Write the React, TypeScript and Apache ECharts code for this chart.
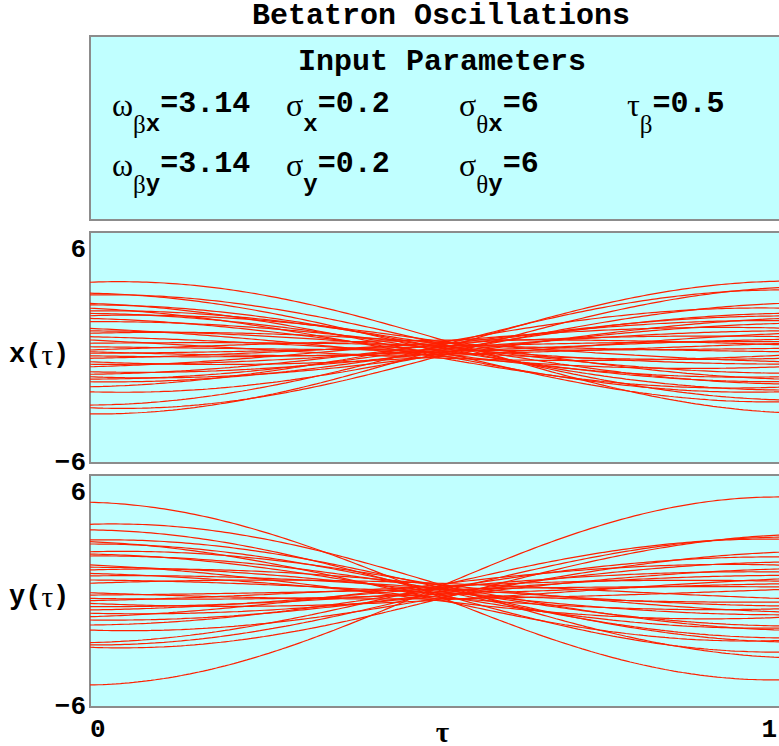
import React, { useEffect, useRef } from 'react';
import * as echarts from 'echarts';

// ---- text content ----
const TITLE = 'Betatron Oscillations';
const PARAM_HEADING = 'Input Parameters';

// ---- input parameters ----
const omegaX = 3.14;
const omegaY = 3.14;
const sigmaX = 0.2;
const sigmaY = 0.2;
const sigmaThetaX = 6;
const sigmaThetaY = 6;
const tauBeta = 0.5;

// ---- particle trajectories: position at tau = 0 and at the waist tau = tauBeta ----
const xStart = [3.39, 2.82, 2.73, 2.29, 2.21, 2.04, 1.9, 1.77, 1.65, 1.51, 1.34, 0.99, 0.86, 0.74, 0.56, 0.39, 0.22, 0.04,
  -0.13, -0.22, -0.3, -0.43, -0.56, -0.74, -0.87, -1.0, -1.26, -1.39, -1.52, -1.64, -1.78, -2.04, -2.3, -2.99, -3.13, -3.45];
const xWaist = [0.45, -0.2, 0.22, -0.38, 0.02, -0.52, 0.16, -0.12, 0.33, -0.3, 0.08, -0.45, -0.02, 0.27, -0.26, -0.55, 0.12, -0.14,
  0.38, -0.36, 0.05, -0.22, 0.2, -0.48, -0.08, 0.3, -0.28, 0.14, -0.42, 0.0, -0.16, 0.24, -0.34, 0.08, -0.46, -0.1];

const yStart = [4.59, 3.45, 3.16, 2.64, 2.55, 2.43, 2.03, 1.91, 1.81, 1.35, 1.23, 1.09, 0.91, 0.78, 0.57, 0.4,
  -0.09, -0.21, -0.38, -0.5, -0.64, -0.81, -0.98, -1.15, -1.33, -1.5, -1.76, -2.02, -2.67, -2.79, -2.91, -4.86];
const yWaist = [-0.28, 0.36, -0.14, 0.2, -0.44, 0.04, 0.3, -0.22, 0.1, -0.5, -0.02, 0.33, -0.32, 0.15, -0.1, 0.4,
  -0.4, 0.08, -0.18, 0.24, -0.47, -0.04, 0.17, -0.26, 0.35, -0.14, 0.12, -0.36, 0.26, -0.06, -0.42, 0.2];

// ---- axes ----
const xTickValues = [0, 0.5, 1];
const xTickLabels = ['0', 'τ', '1'];
const yTickValues = [-6, 0, 6];
const yTickLabels = ['−6', '', '6'];
const xAxisNames = ['x(', 'τ', ')'];
const yAxisNames = ['y(', 'τ', ')'];

const SAMPLES = 160;

const MONO = '"Liberation Mono", "DejaVu Sans Mono", monospace';
const SERIF = '"Liberation Serif", "DejaVu Serif", serif';
const PANEL_BG = '#c0ffff';
const FRAME = '#8c8c8c';
const CURVE = '#ff2000';

// Betatron motion through a waist: x(t) = w cos(u) - x0 sin(u) / sin(omega * tauBeta), u = omega (t - tauBeta)
function trajectory(start: number, waist: number, omega: number): number[][] {
  const s = Math.sin(omega * tauBeta);
  const pts: number[][] = [];
  for (let i = 0; i <= SAMPLES; i++) {
    const t = i / SAMPLES;
    const u = omega * (t - tauBeta);
    pts.push([t, waist * Math.cos(u) - (start * Math.sin(u)) / s]);
  }
  return pts;
}

type Piece = { text: string; style: string };
type Param = { x: number; pieces: Piece[] };

const fmt = (v: number) => '=' + String(v);

const paramRows: Param[][] = [
  [
    { x: 112, pieces: [{ text: 'ω', style: 'g' }, { text: 'β', style: 'gs' }, { text: 'x', style: 'ms' }, { text: fmt(omegaX), style: 'm' }] },
    { x: 286, pieces: [{ text: 'σ', style: 'g' }, { text: 'x', style: 'ms' }, { text: fmt(sigmaX), style: 'm' }] },
    { x: 459, pieces: [{ text: 'σ', style: 'g' }, { text: 'θ', style: 'gs' }, { text: 'x', style: 'ms' }, { text: fmt(sigmaThetaX), style: 'm' }] },
    { x: 627, pieces: [{ text: 'τ', style: 'g' }, { text: 'β', style: 'gs' }, { text: fmt(tauBeta), style: 'm' }] },
  ],
  [
    { x: 112, pieces: [{ text: 'ω', style: 'g' }, { text: 'β', style: 'gs' }, { text: 'y', style: 'ms' }, { text: fmt(omegaY), style: 'm' }] },
    { x: 286, pieces: [{ text: 'σ', style: 'g' }, { text: 'y', style: 'ms' }, { text: fmt(sigmaY), style: 'm' }] },
    { x: 459, pieces: [{ text: 'σ', style: 'g' }, { text: 'θ', style: 'gs' }, { text: 'y', style: 'ms' }, { text: fmt(sigmaThetaY), style: 'm' }] },
  ],
];
const paramRowTops = [89, 149];

const paramRich = {
  g: { fontFamily: SERIF, fontSize: 32, lineHeight: 34, verticalAlign: 'top', fill: '#000' },
  m: { fontFamily: MONO, fontWeight: 'bold', fontSize: 30, lineHeight: 34, verticalAlign: 'top', fill: '#000' },
  gs: { fontFamily: SERIF, fontSize: 25, lineHeight: 22, padding: [23, 0, 0, 0], verticalAlign: 'top', fill: '#000' },
  ms: { fontFamily: MONO, fontWeight: 'bold', fontSize: 24, lineHeight: 22, padding: [23, 0, 0, 0], verticalAlign: 'top', fill: '#000' },
};

const nameRich = {
  m: { fontFamily: MONO, fontWeight: 'bold', fontSize: 27, fill: '#000' },
  g: { fontFamily: SERIF, fontSize: 29, fill: '#000' },
};

function buildOption(): echarts.EChartsOption {
  const grids = [
    { left: 90, top: 232, height: 231, right: -8 },
    { left: 90, top: 475, height: 232, right: -8 },
  ].map((g) => ({
    ...g,
    show: true,
    backgroundColor: PANEL_BG,
    borderColor: FRAME,
    borderWidth: 2,
    containLabel: false,
    outerBoundsMode: 'none',
  }));

  const yAxisFor = (gridIndex: number) => ({
    type: 'value' as const,
    gridIndex,
    min: -6,
    max: 6,
    interval: 6,
    axisLine: { show: false },
    axisTick: { show: false },
    splitLine: { show: false },
    axisLabel: {
      margin: 4,
      fontFamily: MONO,
      fontWeight: 'bold' as const,
      fontSize: 26,
      color: '#000',
      formatter: (v: number) => {
        const s = yTickLabels[yTickValues.indexOf(v)] || '';
        if (!s) return '';
        return v === 6 ? `{hi|${s}}` : s;
      },
      rich: {
        hi: { fontFamily: MONO, fontWeight: 'bold', fontSize: 26, color: '#000', padding: [36, 0, 0, 0] },
      },
    },
  });

  const xAxisFor = (gridIndex: number, showLabels: boolean) => ({
    type: 'value' as const,
    gridIndex,
    min: 0,
    max: 1,
    interval: 0.5,
    axisLine: { show: false },
    axisTick: { show: false },
    splitLine: { show: false },
    axisLabel: {
      show: showLabels,
      margin: 10,
      fontFamily: MONO,
      fontWeight: 'bold' as const,
      fontSize: 26,
      color: '#000',
      alignMinLabel: 'left',
      alignMaxLabel: 'right',
      formatter: (v: number) => {
        const i = xTickValues.indexOf(v);
        const s = i >= 0 ? xTickLabels[i] : '';
        if (i === 1) return `{g|${s}}`;
        if (i === 2) return `{r|${s}}`;
        return s;
      },
      rich: {
        g: { fontFamily: SERIF, fontSize: 29, color: '#000', padding: [0, 0, 0, 8] },
        r: { fontFamily: MONO, fontWeight: 'bold', fontSize: 26, color: '#000', padding: [0, 10, 0, 0] },
      },
    },
  });

  const series: any[] = [];
  xStart.forEach((s, i) => {
    series.push({
      type: 'line', xAxisIndex: 0, yAxisIndex: 0, data: trajectory(s, xWaist[i], omegaX),
      showSymbol: false, silent: true, lineStyle: { color: CURVE, width: 1.2 }, clip: true,
    });
  });
  yStart.forEach((s, i) => {
    series.push({
      type: 'line', xAxisIndex: 1, yAxisIndex: 1, data: trajectory(s, yWaist[i], omegaY),
      showSymbol: false, silent: true, lineStyle: { color: CURVE, width: 1.2 }, clip: true,
    });
  });

  const graphic: any[] = [
    {
      type: 'text', x: 441, y: 1,
      style: { text: TITLE, fontFamily: MONO, fontWeight: 'bold', fontSize: 30, fill: '#000', align: 'center', verticalAlign: 'top' },
    },
    {
      type: 'rect', shape: { x: 90, y: 36, width: 720, height: 184 },
      style: { fill: PANEL_BG, stroke: FRAME, lineWidth: 2 }, z: 0,
    },
    {
      type: 'text', x: 442, y: 47,
      style: { text: PARAM_HEADING, fontFamily: MONO, fontWeight: 'bold', fontSize: 30, fill: '#000', align: 'center', verticalAlign: 'top' },
      z: 1,
    },
  ];
  paramRows.forEach((row, r) => {
    row.forEach((p) => {
      graphic.push({
        type: 'text', x: p.x, y: paramRowTops[r], z: 1,
        style: {
          text: p.pieces.map((pc) => `{${pc.style}|${pc.text}}`).join(''),
          rich: paramRich,
          align: 'left',
          verticalAlign: 'top',
        },
      });
    });
  });
  [[xAxisNames, 355], [yAxisNames, 597]].forEach(([parts, y]: any) => {
    graphic.push({
      type: 'text', x: 9, y, z: 1,
      style: {
        text: `{m|${parts[0]}}{g|${parts[1]}}{m|${parts[2]}}`,
        rich: nameRich,
        align: 'left',
        verticalAlign: 'middle',
      },
    });
  });

  return {
    animation: false,
    backgroundColor: '#ffffff',
    grid: grids as any,
    xAxis: [xAxisFor(0, false), xAxisFor(1, true)] as any,
    yAxis: [yAxisFor(0), yAxisFor(1)] as any,
    series,
    graphic,
  };
}

export default function App() {
  const ref = useRef<HTMLDivElement>(null);
  useEffect(() => {
    if (!ref.current) return;
    const chart = echarts.init(ref.current, undefined, { renderer: 'svg' });
    chart.setOption(buildOption());
    return () => chart.dispose();
  }, []);
  return (
    <div
      ref={ref}
      style={{ position: 'absolute', left: 0, top: 0, width: 779, height: 746, overflow: 'hidden' }}
    />
  );
}
